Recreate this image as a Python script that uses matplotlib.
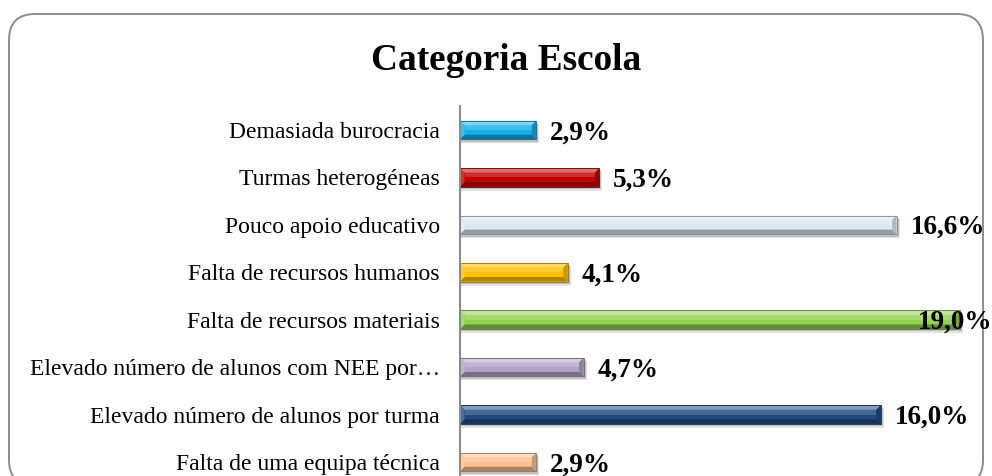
import numpy as np
import matplotlib
matplotlib.use("Agg")
import matplotlib.pyplot as plt
from matplotlib.patches import Polygon, FancyBboxPatch
from matplotlib.colors import to_rgb

# ---- data ----
title = "Categoria Escola"
categories = [
    "Demasiada burocracia",
    "Turmas heterogéneas",
    "Pouco apoio educativo",
    "Falta de recursos humanos",
    "Falta de recursos materiais",
    "Elevado número de alunos com NEE por…",
    "Elevado número de alunos por turma",
    "Falta de uma equipa técnica",
]
values = [2.9, 5.3, 16.6, 4.1, 19.0, 4.7, 16.0, 2.9]
value_labels = ["2,9%", "5,3%", "16,6%", "4,1%", "19,0%", "4,7%", "16,0%", "2,9%"]
colors = ["#14AEE8", "#C00000", "#DCE6F2", "#FFC000", "#92D050",
          "#B3A2C7", "#1F497D", "#FAC090"]

serif = ["Liberation Serif", "DejaVu Serif"]

W, H = 992, 476
fig = plt.figure(figsize=(W / 100, H / 100), dpi=100)

# rounded chart border (inches)
border = FancyBboxPatch((9 / 100, (H - 486) / 100), (983 - 9) / 100, (486 - 14) / 100,
                        boxstyle="round,pad=0,rounding_size=0.26",
                        transform=fig.dpi_scale_trans, facecolor="none",
                        edgecolor="#8C8C8C", linewidth=1.4, zorder=-1)
fig.patches.append(border)

ax_left, ax_right = 460, 986
ax_top, ax_bot = 106.3, 485.7
ax = fig.add_axes([ax_left / W, (H - ax_bot) / H, (ax_right - ax_left) / W, (ax_bot - ax_top) / H])
ax.set_facecolor("none")

n = len(categories)
y = np.arange(n)
ax.set_xlim(0, 20)
ax.set_ylim(n - 0.5, -0.5)

bars = ax.barh(y, values, height=0.39, color=colors, zorder=3, linewidth=0)

for s in ["top", "right", "bottom"]:
    ax.spines[s].set_visible(False)
ax.spines["left"].set_color("#8C8C8C")
ax.spines["left"].set_linewidth(1.5)
ax.spines["left"].set_zorder(6)
ax.set_xticks([])
ax.set_yticks(y)
ax.set_yticklabels(categories, fontsize=17, family=serif)
ax.tick_params(axis="y", length=0, pad=14.5)


def blend(c, target, t):
    c = np.array(to_rgb(c))
    target = np.array(to_rgb(target))
    return tuple(c * (1 - t) + target * t)


inv = ax.transData.inverted()


def add_poly(pts, color, z, alpha=1.0, ec="none", lw=0):
    pts = inv.transform(np.array(pts, dtype=float))
    ax.add_patch(Polygon(pts, closed=True, facecolor=color, edgecolor=ec, linewidth=lw,
                         transform=ax.transData, zorder=z, alpha=alpha))


for p, c in zip(bars.patches, colors):
    (xa, ya), (xb, yb) = ax.transData.transform(
        [(p.get_x(), p.get_y()), (p.get_x() + p.get_width(), p.get_y() + p.get_height())])
    L, R = min(xa, xb), max(xa, xb)
    B, T = min(ya, yb), max(ya, yb)
    b = 4.5
    # soft shadow
    add_poly([(L + 1, B - 4), (R + 3, B - 4), (R + 3, T - 3), (L + 1, T - 3)], "#7F7F7F", 2, 0.22)
    add_poly([(L + 1, B - 2.5), (R + 2, B - 2.5), (R + 2, T - 2), (L + 1, T - 2)], "#6F6F6F", 2.1, 0.3)
    # face highlight (upper part)
    add_poly([(L + b, T - b), (R - b, T - b), (R - b, (T + B) / 2), (L + b, (T + B) / 2)],
             blend(c, "white", 0.18), 3.5)
    # facets
    add_poly([(L, T), (R, T), (R - b, T - b), (L + b, T - b)], blend(c, "white", 0.45), 4)
    add_poly([(L, B), (R, B), (R - b, B + b), (L + b, B + b)], blend(c, "black", 0.32), 4)
    add_poly([(R, T), (R, B), (R - b, B + b), (R - b, T - b)], blend(c, "black", 0.2), 4)
    add_poly([(L, T), (L, B), (L + b, B + b), (L + b, T - b)], blend(c, "white", 0.2), 4)
    # outline
    add_poly([(L, T), (R, T), (R, B), (L, B)], "none", 4.6, ec=blend(c, "black", 0.4), lw=0.6)

xmax = ax.get_xlim()[1]
for i, (v, lab) in enumerate(zip(values, value_labels)):
    if v / xmax > 0.85:
        ax.annotate(lab, xy=(1.0, i), xycoords=("axes fraction", "data"),
                    xytext=(4.5, -2), textcoords="offset points", ha="right", va="center",
                    fontsize=19.5, fontweight="bold", family=serif, zorder=7,
                    annotation_clip=False)
    else:
        ax.annotate(lab, xy=(v, i), xytext=(10, -2), textcoords="offset points",
                    ha="left", va="center", fontsize=19.5, fontweight="bold",
                    family=serif, zorder=7, annotation_clip=False)

fig.text(506 / W, (H - 69.5) / H, title, ha="center", va="baseline", fontsize=26.8,
         fontweight="bold", family=serif)

fig.savefig("out.png", dpi=100)
